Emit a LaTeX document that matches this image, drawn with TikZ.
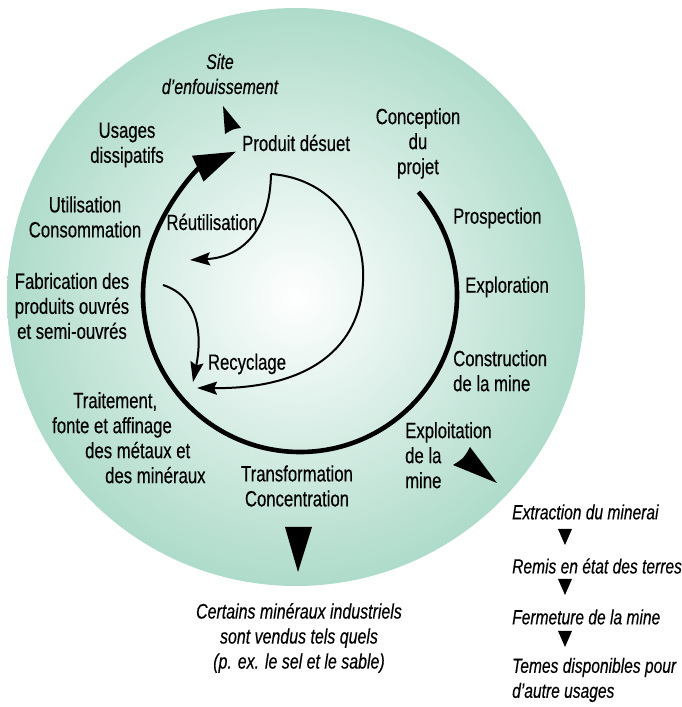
\documentclass[tikz,border=0pt]{standalone}
\usepackage{fontspec}
\setmainfont{Liberation Sans}[FakeStretch=0.76,FakeBold=0.35]
\usepackage{tikz}
\usetikzlibrary{arrows.meta}
\definecolor{mintout}{RGB}{174,219,202}
\tikzset{
	cyclab/.style={align=center,inner sep=0pt,font=\fontsize{22}{25}\selectfont},
	cycnote/.style={align=center,inner sep=0pt,font=\fontsize{21}{25}\selectfont\itshape},
	cyclist/.style={cycnote,font=\fontsize{20.5}{25}\selectfont\itshape,anchor=west},
	cycring/.style={draw=black,line width=4.6pt,-{Triangle[length=42pt,width=27pt]}},
	cycloop/.style={draw=black,line width=2pt,-{Stealth[length=20pt,width=13pt,inset=3pt]}},
	cycpoint/.style={fill=black}
}
\begin{document}
\begin{tikzpicture}[x=1pt,y=1pt]
	\useasboundingbox (0,0) rectangle (682,707);
	\shade[inner color=white,outer color=mintout] (296,410) circle (289);
	% main cycle
	\coordinate (ringc) at (300,412);
	\draw[cycring] ([shift={(41:157)}]ringc) arc[start angle=41,end angle=-246,radius=157];
	% labels round the cycle
	\node[cyclab,anchor=west] (prod) at (242,564) {Produit désuet};
	\node[cycnote] (site) at (220,633) {Site\\d’enfouissement};
	\node[cyclab] (usag) at (127,562) {Usages\\dissipatifs};
	\node[cyclab] (util) at (85,490) {Utilisation\\Consommation};
	\node[cyclab] (fabr) at (72,401) {Fabrication des\\produits ouvrés\\et semi-ouvrés};
	\node[cyclab,align=left,anchor=north west] (trai) at (52,315)
		{\hspace*{21pt}Traitement,\\fonte et affinage\\\hspace*{33pt}des métaux et\\\hspace*{53pt}des minéraux};
	\node[cyclab] (tran) at (297,221) {Transformation\\Concentration};
	\node[cyclab,align=left,anchor=north west] (expl) at (405,285) {Exploitation\\de la\\mine};
	\node[cyclab,align=left,anchor=north west] (cons) at (453,357) {Construction\\de la mine};
	\node[cyclab,anchor=west] (explo) at (465,420) {Exploration};
	\node[cyclab,anchor=west] (prosp) at (453,489) {Prospection};
	\node[cyclab,anchor=north] (conc) at (418,599) {Conception\\du\\projet};
	\node[cyclab] (reut) at (212,485) {Réutilisation};
	\node[cyclab] (recy) at (247,343) {Recyclage};
	% inner loops
	\coordinate (cusp) at (271,533);
	\coordinate (reutend) at (190,447);
	\coordinate (recyend) at (197,319);
	\coordinate (fabrout) at (163,422);
	\coordinate (fabrend) at (193,325);
	\draw[cycloop] (cusp) .. controls (270,480) and (245,450) .. (reutend);
	\draw[cycloop] (cusp) .. controls (335,528) and (366,475) .. (363,425)
		.. controls (360,360) and (310,318) .. (recyend);
	\draw[cycloop] (fabrout) .. controls (200,410) and (202,370) .. (fabrend);
	% pointers
	\fill[cycpoint] (223,601) -- (241,579) .. controls (233,578) .. (225,573) -- cycle;
	\fill[cycpoint] (497,224) -- (470,260) .. controls (464,249) .. (453,242) -- cycle;
	\fill[cycpoint] (285,180) -- (312,180) -- (298,135) -- cycle;
	% below the circle
	\node[cycnote] (vend) at (299,69)
		{Certains minéraux industriels\\sont vendus tels quels\\(p. ex. le sel et le sable)};
	\node[cyclist] (extr) at (512,195) {Extraction du minerai};
	\node[cyclist] (remi) at (512,141) {Remis en état des terres};
	\node[cyclist] (ferm) at (512,90) {Fermeture de la mine};
	\node[cyclist,align=left] (terr) at (512,27) {Temes disponibles pour\\d’autre usages};
	\foreach \ty in {170,120,68}
		\fill[cycpoint] (558,\ty+8) -- (572,\ty+8) -- (565,\ty-8) -- cycle;
\end{tikzpicture}
\end{document}
